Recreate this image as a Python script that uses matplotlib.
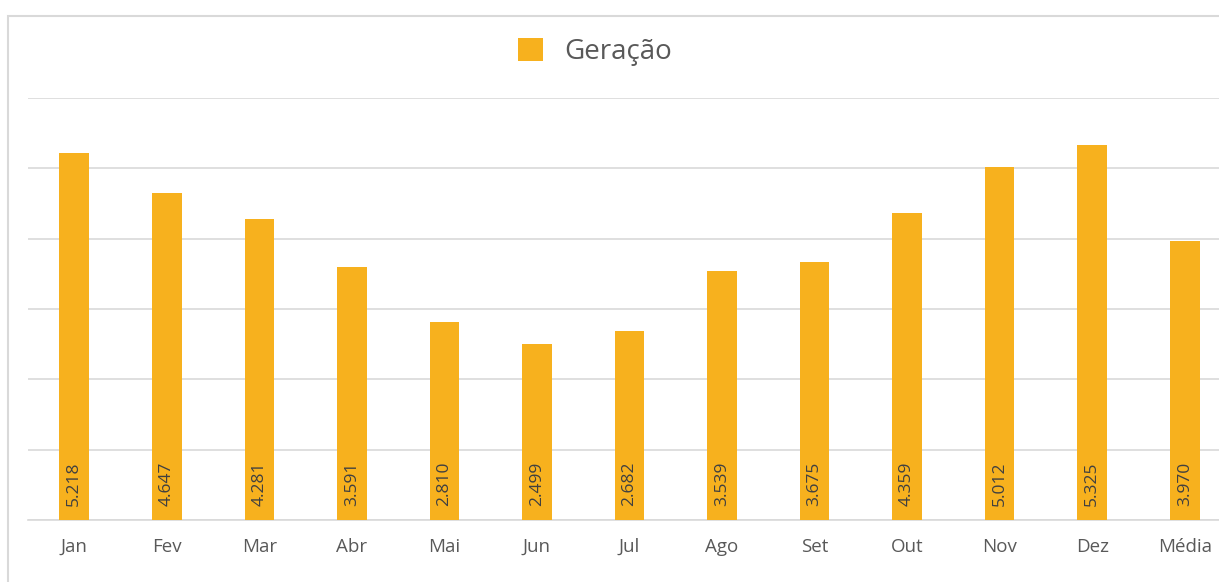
import matplotlib.pyplot as plt
from matplotlib.patches import Rectangle
import numpy as np

months = ["Jan", "Fev", "Mar", "Abr", "Mai", "Jun", "Jul", "Ago", "Set", "Out", "Nov", "Dez", "Média"]
geracao = [5.218, 4.647, 4.281, 3.591, 2.810, 2.499, 2.682, 3.539, 3.675, 4.359, 5.012, 5.325, 3.970]
value_labels = ["5.218", "4.647", "4.281", "3.591", "2.810", "2.499", "2.682", "3.539", "3.675", "4.359", "5.012", "5.325", "3.970"]

plt.rcParams["font.family"] = ["Open Sans", "DejaVu Sans"]

bar_color = "#F7B11E"
grid_color = "#D9D9D9"
text_color = "#595959"

W, H = 1219, 582
fig = plt.figure(figsize=(W / 100, H / 100), dpi=100)

# plot area runs past the right edge, like the cropped original
left, right = 28, 1231
top, bottom = 98, 520
ax = fig.add_axes([left / W, 1 - bottom / H, (right - left) / W, (bottom - top) / H])

x = np.arange(len(months))
ax.bar(x, geracao, width=0.32, color=bar_color, label="Geração", zorder=3)

for xi, lab in zip(x, value_labels):
    ax.text(xi, 0.2, lab, rotation=90, ha="center", va="bottom",
            fontsize=12.5, color="#404040", zorder=4)

ax.set_xlim(-0.5, len(months) - 0.5)
ax.set_ylim(0, 6)
ax.set_yticks(np.arange(0, 7, 1))
ax.yaxis.grid(True, color=grid_color, linewidth=1.2, zorder=0)
ax.tick_params(axis="y", left=False, labelleft=False)
ax.set_xticks(x)
ax.set_xticklabels(months, fontsize=13.5, color=text_color)
ax.tick_params(axis="x", length=0, pad=13)
for s in ["top", "right", "left"]:
    ax.spines[s].set_visible(False)
ax.spines["bottom"].set_color(grid_color)
ax.spines["bottom"].set_linewidth(1.2)

# chart outline
fig.patches.append(Rectangle((8 / W, -0.1), 1.2, 1 - 16 / H + 0.1, transform=fig.transFigure,
                             fill=False, edgecolor=grid_color, linewidth=1.5))

fig.legend(loc="center", bbox_to_anchor=(595 / W, 1 - 52 / H), frameon=False,
           fontsize=20, labelcolor=text_color, handlelength=0.9, handleheight=0.9,
           handletextpad=0.8)

fig.savefig("out.png", dpi=100)
